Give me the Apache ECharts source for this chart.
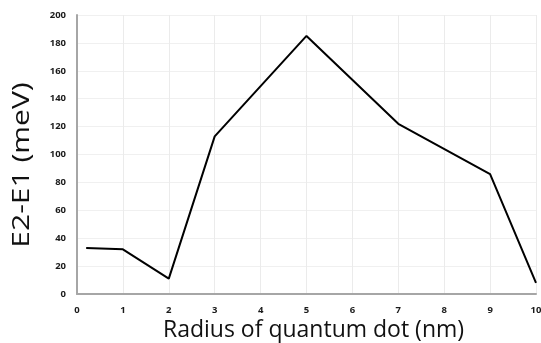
<!DOCTYPE html>
<html>
<head>
<meta charset="utf-8">
<script src="https://cdn.jsdelivr.net/npm/echarts@6/dist/echarts.min.js"></script>
<style>
  html, body { margin: 0; padding: 0; background: #fff; }
  #chart { width: 541px; height: 343px; }
</style>
</head>
<body>
<div id="chart"></div>
<script>
// Quantum-dot radius (nm) and the E2-E1 transition energy (meV)
const radius = [0.2, 1, 2, 3, 5, 7, 9, 10];
const energy = [33, 32, 11, 113, 185, 122, 86, 8];

const xTitle = 'Radius of quantum dot (nm)';
const yTitle = 'E2-E1 (meV)';

const tickStyle = { fontFamily: 'Open Sans', fontWeight: 'bold', fontSize: 9.5, color: '#1a1a1a' };

const chart = echarts.init(document.getElementById('chart'));
chart.setOption({
  animation: false,
  grid: { left: 77, right: 5, top: 15, bottom: 49, containLabel: false, outerBoundsMode: 'none' },
  xAxis: {
    type: 'value', min: 0, max: 10, interval: 1,
    axisLine: { show: true, onZero: false, lineStyle: { color: '#a6a6a6', width: 2 } },
    axisTick: { show: false },
    axisLabel: Object.assign({ margin: 11 }, tickStyle),
    splitLine: { show: true, interval: function (i) { return i % 2 === 0; },
      lineStyle: { color: '#ebebeb', width: 1 } }
  },
  yAxis: {
    type: 'value', min: 0, max: 200, interval: 20,
    axisLine: { show: true, lineStyle: { color: '#a6a6a6', width: 2 } },
    axisTick: { show: false },
    axisLabel: Object.assign({ margin: 11 }, tickStyle),
    splitLine: { show: true, lineStyle: { color: '#f0f0f0', width: 1 } }
  },
  graphic: [
    // vertical axis title, stretched along its length
    {
      type: 'text', x: 22, y: 165, rotation: Math.PI / 2, scaleX: 1.25,
      style: { text: yTitle, font: '24px "Open Sans"', fill: '#111', align: 'center', verticalAlign: 'middle' }
    },
    // horizontal axis title
    {
      type: 'text', x: 313.5, y: 330.5,
      style: { text: xTitle, font: '23px "Open Sans"', fill: '#111', align: 'center', verticalAlign: 'middle' }
    }
  ],
  series: [{
    type: 'line',
    data: radius.map((r, i) => [r, energy[i]]),
    showSymbol: false,
    lineStyle: { color: '#000', width: 2 }
  }]
});
</script>
</body>
</html>
